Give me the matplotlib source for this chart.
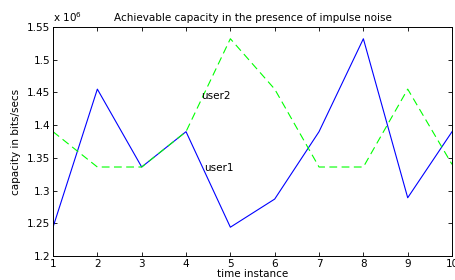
import numpy as np
import matplotlib.pyplot as plt
from matplotlib.ticker import FuncFormatter

# time instances and capacities (bits/sec)
t = [1, 2, 3, 4, 5, 6, 7, 8, 9, 10]
user1 = [1.244e6, 1.455e6, 1.336e6, 1.39e6, 1.244e6, 1.287e6, 1.39e6, 1.532e6, 1.289e6, 1.39e6]
user2 = [1.39e6, 1.336e6, 1.336e6, 1.39e6, 1.532e6, 1.455e6, 1.336e6, 1.336e6, 1.455e6, 1.34e6]

plt.rcParams['font.family'] = 'DejaVu Sans'
plt.rcParams['font.size'] = 7.5

fig = plt.figure(figsize=(4.55, 2.8), dpi=100)
ax = fig.add_axes([0.1165, 0.0857, 0.877, 0.818])

ax.plot(t, user1, color='#0000ff', lw=0.8)
ax.plot(t, user2, color='#00ff00', lw=0.8, ls=(0, (7, 4)))
ax.text(4.35, 1.44e6, 'user2', fontsize=7.5)
ax.text(4.4, 1.33e6, 'user1', fontsize=7.5)

ax.set_xlim(1, 10)
ax.set_ylim(1.2e6, 1.55e6)
ax.set_xticks(t)
ax.set_yticks(np.arange(1.2e6, 1.551e6, 0.05e6))
ax.yaxis.set_major_formatter(FuncFormatter(lambda v, p: '%g' % round(v / 1e6, 2)))
ax.text(0.0, 1.012, r'x 10$^{6}$', transform=ax.transAxes, fontsize=7.5, va='bottom')

ax.tick_params(direction='in', top=True, right=True, length=3, width=0.6, labelsize=7.5, pad=2)
for s in ax.spines.values():
    s.set_linewidth(0.7)

ax.set_title('Achievable capacity in the presence of impulse noise', fontsize=7.5, pad=4)
ax.set_xlabel('time instance', fontsize=7.5, labelpad=0)
ax.set_ylabel('capacity in bits/secs', fontsize=7.5, labelpad=4)

plt.savefig('out.png', dpi=100)
